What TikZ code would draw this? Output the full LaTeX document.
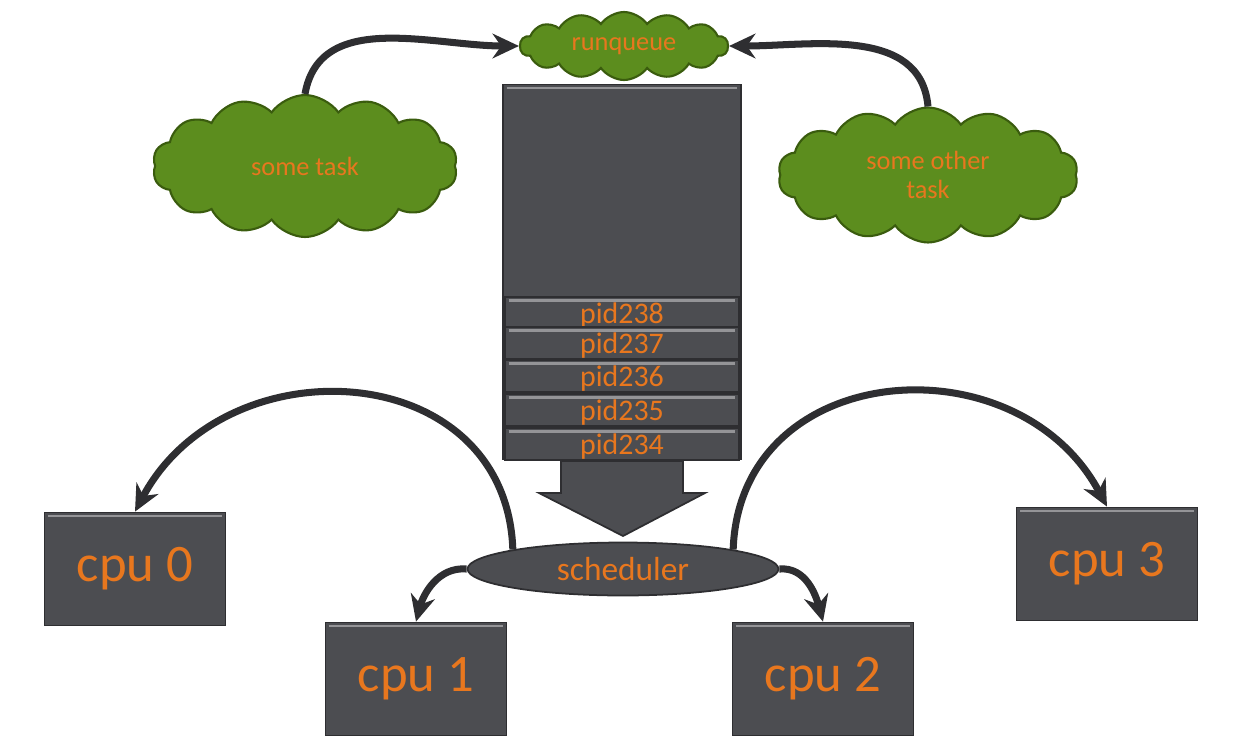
\documentclass[tikz,border=0pt]{standalone}
\usepackage{fontspec}
\setmainfont{Carlito}
\usetikzlibrary{arrows.meta,shapes.symbols,shapes.geometric}
\definecolor{boxgray}{HTML}{4C4D51}
\definecolor{edgegray}{HTML}{2E2E31}
\definecolor{pidorange}{HTML}{E8771E}
\definecolor{cloudgreen}{HTML}{5C8D1E}
\definecolor{clouddark}{HTML}{3A5C0E}

\begin{document}
\begin{tikzpicture}[x=0.02cm,y=-0.02cm,>={Stealth[length=15pt,width=14pt]},
                    bevel/.style={path picture={\draw[white!40!boxgray,line width=1.5pt]
                      ([xshift=2pt,yshift=-2pt]path picture bounding box.north west) --
                      ([xshift=-2pt,yshift=-2pt]path picture bounding box.north east);}},
                    box node/.style={rectangle,draw=edgegray,fill=boxgray,line width=1pt,bevel,inner sep=0pt,text=pidorange},
                    cpu node/.style={box node,minimum width=3.62cm,minimum height=2.26cm,font=\fontsize{30}{30}\selectfont},
                    pid node/.style={box node,minimum width=4.68cm,minimum height=0.6cm,text height=15pt,text depth=3pt,
                      font=\fontsize{17}{17}\selectfont},
                    cloud node/.style={cloud,cloud puffs=14,cloud puff arc=110,draw=clouddark,fill=cloudgreen,line width=1.2pt,
                      text=pidorange,font=\fontsize{15}{17}\selectfont,align=center,inner sep=0pt},
                    flow/.style={->,draw=edgegray,line width=4pt}]

  \useasboundingbox (0,0) rectangle (1235,738);

  % the queue
  \node[box node,minimum width=4.76cm,minimum height=7.5cm] (queue) at (622,272) {};
  \node[pid node] (p238) at (622,313) {pid238};
  \node[pid node] (p237) at (622,343) {pid237};
  \node[pid node] (p236) at (622,376) {pid236};
  \node[pid node] (p235) at (622,410) {pid235};
  \node[pid node] (p234) at (622,444) {pid234};
  \draw[draw=edgegray,fill=boxgray,line width=1pt] (561,461) -- (683,461) -- (683,493) -- (705,493)
    -- (623,536) -- (539,493) -- (561,493) -- cycle;

  \node[ellipse,draw=edgegray,fill=boxgray,line width=1pt,minimum width=6.22cm,minimum height=1.06cm,
        inner sep=0pt,text=pidorange,font=\fontsize{19}{19}\selectfont] (sched) at (623,569) {scheduler};

  \node[cloud node,aspect=3.1,minimum width=4.16cm,minimum height=1.36cm] (rq) at (624,46) {runqueue};
  \node[cloud node,aspect=2.15,minimum width=6.1cm,minimum height=2.84cm] (task) at (305,166) {some task};
  \node[cloud node,aspect=2.2,minimum width=6cm,minimum height=2.7cm] (other) at (928,175) {some other\\task};

  \node[cpu node] (cpu0) at (135,569) {cpu 0};
  \node[cpu node] (cpu1) at (416,679) {cpu 1};
  \node[cpu node] (cpu2) at (823,679) {cpu 2};
  \node[cpu node] (cpu3) at (1107,564) {cpu 3};

  \path[every edge/.style={flow}]
    (task.north) edge[out=80,in=180] (rq.west)
    (other.north) edge[out=95,in=0] (rq.east)
    (sched.170) edge[out=92,in=62,looseness=1.3] (cpu0.north)
    (sched.west) edge[out=175,in=75] (cpu1.north)
    (sched.east) edge[out=5,in=105] (cpu2.north)
    (sched.10) edge[out=88,in=118,looseness=1.3] (cpu3.north);

\end{tikzpicture}
\end{document}
